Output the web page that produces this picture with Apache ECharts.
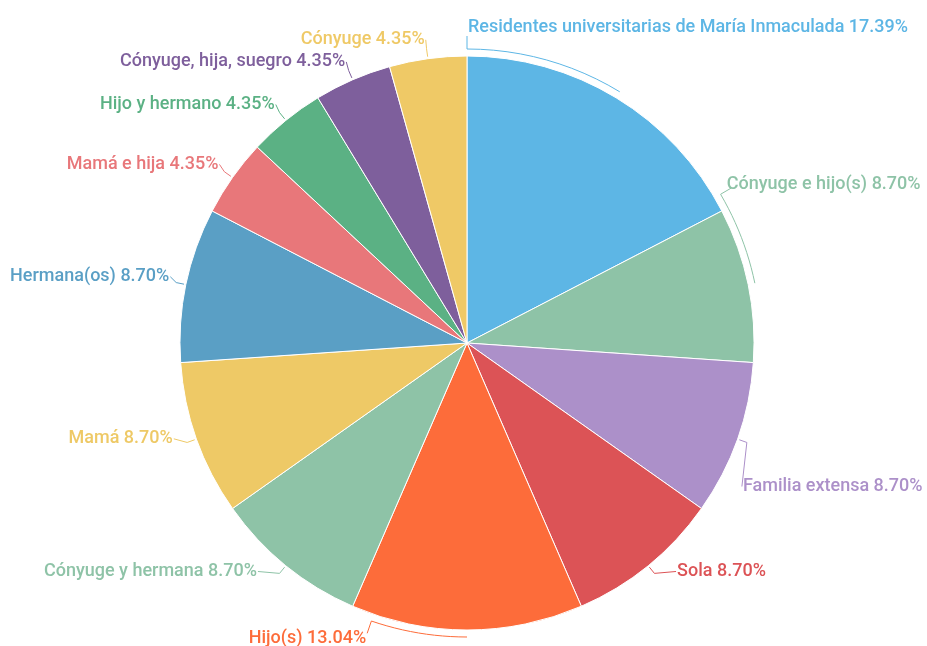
<!DOCTYPE html>
<html>
<head>
<meta charset="utf-8">
<script src="https://cdn.jsdelivr.net/npm/echarts@6/dist/echarts.min.js"></script>
<style>
html, body { margin: 0; padding: 0; background: #fff; }
#chart { width: 927px; height: 646px; }
</style>
</head>
<body>
<div id="chart"></div>
<script>
// categories and counts (percentages are count / 23)
var categories = ['Residentes universitarias de María Inmaculada', 'Cónyuge e hijo(s)', 'Familia extensa', 'Sola',
    'Hijo(s)', 'Cónyuge y hermana', 'Mamá', 'Hermana(os)', 'Mamá e hija', 'Hijo y hermano',
    'Cónyuge, hija, suegro', 'Cónyuge'];
var counts = [4, 2, 2, 2, 3, 2, 2, 2, 1, 1, 1, 1];
var colors = ['#5db6e5', '#8ec3a7', '#ac90c9', '#dc5356', '#fd6c3a', '#8ec3a7',
    '#eec966', '#5a9fc5', '#e8777a', '#5bb184', '#7e5f9c', '#efc966'];

var CX = 467, CY = 343, R = 287, W = 927;
// labels that slide along the arc to an edge of their slice instead of sitting at the middle
var arcLabels = { 0: 'start', 1: 'start', 4: 'end' };

var total = counts.reduce(function (a, b) { return a + b; }, 0);
var starts = [];
counts.reduce(function (acc, c, i) { starts[i] = acc; return acc + c; }, 0);

function rad(d) { return d * Math.PI / 180; }
function pt(deg, r) {
    return [CX + r * Math.sin(rad(deg)), CY - r * Math.cos(rad(deg))];
}
// ring on which the middle labels sit
function ring(deg) {
    var s = Math.sin(rad(deg)), c = Math.cos(rad(deg));
    var side = s >= 0 ? 1 : -1;
    return [CX + side * (303 * Math.abs(s) + 23 * Math.max(0, -c)), CY - 301 * c - 5];
}

function layoutLabel(params) {
    var i = params.dataIndex;
    var a0 = starts[i] / total * 360;
    var a1 = (starts[i] + counts[i]) / total * 360;
    var mid = (a0 + a1) / 2;
    var wid = params.labelRect.width;
    var pts = [], L, ang, right, dy = 0;
    if (arcLabels[i]) {
        ang = arcLabels[i] === 'start' ? a0 : a1 - 4.5;
        if (i === 1) ang = a0 - 3;
        var step = (ang - mid) / 12;
        for (var k = 0; k <= 12; k++) pts.push(pt(mid + step * k, R + 7));
        L = pt(ang, R + 20);
        pts.push(L);
        right = Math.sin(rad(ang)) >= -0.01;
        dy = Math.cos(rad(ang)) > 0 ? (i === 1 ? -3 : -9) : 5;
        L = [L[0] + (right ? 1 : -1) + (i === 1 ? -6 : 0), L[1] + dy];
    } else {
        ang = mid;
        right = Math.sin(rad(ang)) >= 0;
        L = ring(ang);
        // slide down the ring until the label fits inside the page
        while (right && L[0] + wid > W - 5 && ang < 170) {
            ang += 1;
            L = ring(ang);
        }
        pts.push(pt(mid, R + 2));
        pts.push(pt(mid, R + 10));
        pts.push(L);
        L = [L[0] + (right ? 1 : -1), L[1]];
    }
    return {
        x: L[0],
        y: L[1],
        align: right ? 'left' : 'right',
        verticalAlign: 'middle',
        labelLinePoints: pts,
        hideOverlap: false
    };
}

var myChart = echarts.init(document.getElementById('chart'));
var pieData = categories.map(function (name, i) {
    return {
        name: name,
        value: counts[i],
        itemStyle: { color: colors[i] },
        label: { color: colors[i] },
        labelLine: { lineStyle: { color: colors[i] } }
    };
});

myChart.setOption({
    animation: false,
    series: [{
        type: 'pie',
        center: [CX, CY],
        radius: R,
        startAngle: 90,
        clockwise: true,
        avoidLabelOverlap: false,
        itemStyle: { borderColor: '#fff', borderWidth: 1 },
        label: {
            show: true,
            overflow: 'none',
            fontFamily: 'Roboto',
            fontSize: 18,
            fontWeight: 500,
            formatter: function (p) {
                return p.name + ' ' + (p.value / total * 100).toFixed(2) + '%';
            }
        },
        labelLine: { show: true, length: 10, length2: 12, lineStyle: { width: 1 } },
        labelLayout: layoutLabel,
        data: pieData
    }]
});
</script>
</body>
</html>
